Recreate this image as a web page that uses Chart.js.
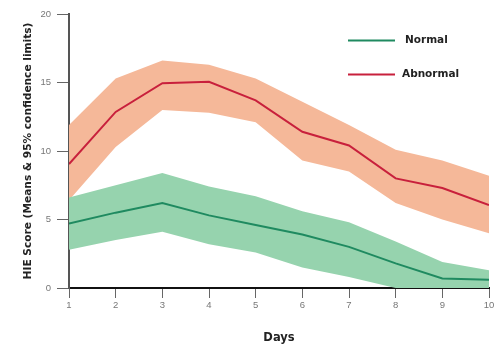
<!DOCTYPE html>
<html>
<head>
<meta charset="utf-8">
<script src="https://cdn.jsdelivr.net/npm/chart.js@4"></script>
<style>
html,body{margin:0;padding:0;background:#fff;}
#wrap{width:500px;height:345px;position:relative;}
</style>
</head>
<body>
<div id="wrap"><canvas id="c" width="500" height="345"></canvas></div>
<script>
const days = [1, 2, 3, 4, 5, 6, 7, 8, 9, 10];
const normalMean  = [4.7, 5.5, 6.2, 5.3, 4.6, 3.9, 3.0, 1.8, 0.7, 0.6];
const normalUpper = [6.6, 7.5, 8.4, 7.4, 6.7, 5.6, 4.8, 3.4, 1.9, 1.3];
const normalLower = [2.8, 3.5, 4.1, 3.2, 2.6, 1.5, 0.8, 0.0, 0.0, 0.0];
const abnMean  = [9.05, 12.85, 14.95, 15.05, 13.7, 11.4, 10.4, 8.0, 7.3, 6.05];
const abnUpper = [11.9, 15.3, 16.6, 16.3, 15.3, 13.6, 11.9, 10.1, 9.3, 8.2];
const abnLower = [6.4, 10.3, 13.0, 12.8, 12.1, 9.3, 8.5, 6.2, 5.0, 4.0];
const yTicks = [0, 5, 10, 15, 20];
const legendItems = [
  {label: 'Normal', color: '#1f8a60'},
  {label: 'Abnormal', color: '#c8203c'}
];

const pts = arr => days.map((d, i) => ({x: d, y: arr[i]}));

const legendPlugin = {
  id: 'customLegend',
  afterDraw(chart) {
    const ctx = chart.ctx;
    ctx.save();
    const rows = [40.5, 74.5];
    legendItems.forEach((it, i) => {
      const y = rows[i];
      ctx.strokeStyle = it.color;
      ctx.lineWidth = 2;
      ctx.beginPath();
      ctx.moveTo(348, y);
      ctx.lineTo(395, y);
      ctx.stroke();
      ctx.fillStyle = '#222';
      ctx.font = 'bold 10.5px "DejaVu Sans", sans-serif';
      ctx.textBaseline = 'middle';
      ctx.textAlign = 'left';
      ctx.fillText(it.label, i === 0 ? 405 : 402, y);
    });
    ctx.restore();
  }
};

new Chart(document.getElementById('c'), {
  type: 'line',
  data: {
    datasets: [
      {data: pts(abnMean), borderColor: '#c8203c', borderWidth: 2, pointRadius: 0, fill: false, order: 0, tension: 0},
      {data: pts(normalMean), borderColor: '#1f8a60', borderWidth: 2, pointRadius: 0, fill: false, order: 0, tension: 0},
      {data: pts(normalUpper), borderWidth: 0, borderColor: 'rgba(0,0,0,0)', backgroundColor: '#96d3ae', pointRadius: 0, fill: '+1', order: 1, tension: 0},
      {data: pts(normalLower), borderWidth: 0, borderColor: 'rgba(0,0,0,0)', pointRadius: 0, fill: false, order: 1, tension: 0},
      {data: pts(abnUpper), borderWidth: 0, borderColor: 'rgba(0,0,0,0)', backgroundColor: '#f5b899', pointRadius: 0, fill: '+1', order: 2, tension: 0},
      {data: pts(abnLower), borderWidth: 0, borderColor: 'rgba(0,0,0,0)', pointRadius: 0, fill: false, order: 2, tension: 0}
    ]
  },
  options: {
    responsive: false,
    animation: false,
    events: [],
    layout: {padding: {top: 14, right: 11, left: 0, bottom: 0}},
    plugins: {legend: {display: false}, tooltip: {enabled: false}},
    scales: {
      x: {
        type: 'linear',
        min: 1, max: 10,
        afterFit: s => { s.height = 57; },
        border: {display: true, color: '#111', width: 2},
        grid: {display: true, drawOnChartArea: false, drawTicks: true, tickLength: 10, color: '#666', lineWidth: 1},
        ticks: {stepSize: 1, color: '#777', font: {family: 'Liberation Sans, Arial, sans-serif', size: 9.5}, padding: 2, maxRotation: 0, autoSkip: false},
        title: {display: true, text: 'Days', color: '#222', font: {family: '"DejaVu Sans", sans-serif', size: 11.5, weight: 'bold'}, padding: {top: 0, bottom: 0}}
      },
      y: {
        type: 'linear',
        min: 0, max: 20,
        afterFit: s => { s.width = 69; },
        afterBuildTicks: s => { s.ticks = yTicks.map(v => ({value: v})); },
        border: {display: true, color: '#555', width: 2},
        grid: {display: true, drawOnChartArea: false, drawTicks: true, tickLength: 12, color: '#666', lineWidth: 1},
        ticks: {color: '#777', font: {family: 'Liberation Sans, Arial, sans-serif', size: 9.5}, padding: 6},
        title: {display: true, text: 'HIE Score (Means & 95% confidence limits)', color: '#222', font: {family: '"DejaVu Sans", sans-serif', size: 10.6, weight: 'bold'}, padding: {top: 22, bottom: 0}}
      }
    }
  },
  plugins: [legendPlugin]
});
</script>
</body>
</html>
